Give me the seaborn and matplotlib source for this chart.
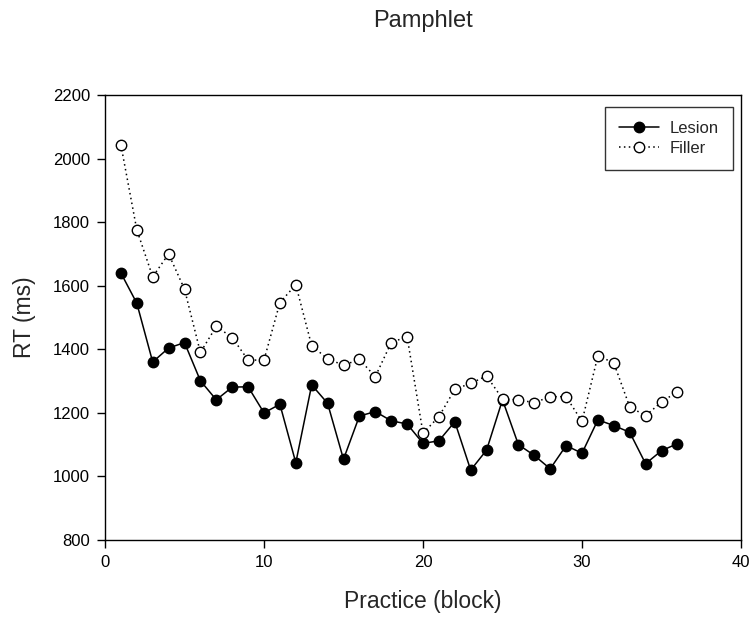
import matplotlib
matplotlib.use("Agg")
import matplotlib.pyplot as plt
import seaborn as sns
import pandas as pd

# values (RT in ms per practice block)
blocks = list(range(1, 37))
lesion_rt = [1640, 1545, 1360, 1404, 1421, 1301, 1241, 1281, 1282, 1200,
             1227, 1043, 1288, 1230, 1054, 1190, 1204, 1175, 1165, 1104,
             1112, 1172, 1020, 1083, 1241, 1100, 1066, 1024, 1097, 1073,
             1178, 1160, 1139, 1040, 1081, 1103]
filler_rt = [2043, 1776, 1628, 1700, 1589, 1390, 1472, 1437, 1366, 1366,
             1547, 1603, 1411, 1370, 1350, 1368, 1314, 1421, 1440, 1136,
             1188, 1274, 1293, 1316, 1244, 1241, 1232, 1251, 1251, 1173,
             1380, 1357, 1219, 1191, 1234, 1267]
x_ticks = [0, 10, 20, 30, 40]
y_ticks = [800, 1000, 1200, 1400, 1600, 1800, 2000, 2200]

sns.set_style("ticks")
plt.rcParams['font.family'] = ['Liberation Sans', 'DejaVu Sans']

df = pd.DataFrame({"block": blocks, "Lesion": lesion_rt, "Filler": filler_rt})

fig = plt.figure(figsize=(7.54, 6.2), dpi=100)
ax = fig.add_axes([105 / 754, 1 - 540 / 620, 636 / 754, 445 / 620])

sns.lineplot(data=df, x="block", y="Lesion", ax=ax, color="black", linewidth=1.1,
             marker="o", markersize=7.5, markerfacecolor="black",
             markeredgecolor="black", markeredgewidth=1, label="Lesion")
sns.lineplot(data=df, x="block", y="Filler", ax=ax, color="black", linewidth=1.1,
             linestyle=(0, (1, 2.2)), marker="o", markersize=7.5,
             markerfacecolor="white", markeredgecolor="black",
             markeredgewidth=1, label="Filler")

ax.set_xlim(0, 40)
ax.set_ylim(800, 2200)
ax.set_xticks(x_ticks)
ax.set_yticks(y_ticks)
ax.tick_params(direction="out", length=5.8, width=1, pad=5, labelsize=12,
               colors="black")
for s in ax.spines.values():
    s.set_linewidth(1)
    s.set_color("black")

ax.set_xlabel("Practice (block)", fontsize=16.5)
ax.set_ylabel("RT (ms)", fontsize=16.5)
ax.xaxis.set_label_coords(0.5, (540 - 590) / 445)
ax.yaxis.set_label_coords((36 - 105) / 636, 0.5)

fig.text((105 + 741) / 2 / 754, 1 - 27 / 620, "Pamphlet", ha="center",
         va="baseline", fontsize=17)

leg = ax.legend(loc="upper right", bbox_to_anchor=((733 - 105) / 636, 1 - 12 / 445),
                borderaxespad=0, fontsize=12, frameon=True, fancybox=False,
                handlelength=2.4, handletextpad=0.65, borderpad=0.85,
                labelspacing=0.3)
leg.get_frame().set_edgecolor("black")
leg.get_frame().set_linewidth(1)

fig.savefig("out.png", dpi=100)
